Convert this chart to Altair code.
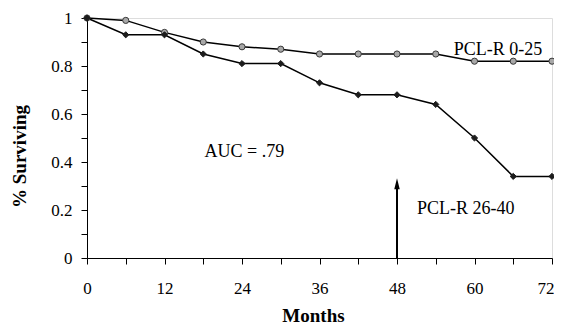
import altair as alt
import pandas as pd

# ---- data ----
months = [0, 6, 12, 18, 24, 30, 36, 42, 48, 54, 60, 66, 72]
pcl_low = [1.00, 0.99, 0.94, 0.90, 0.88, 0.87, 0.85, 0.85, 0.85, 0.85, 0.82, 0.82, 0.82]
pcl_high = [1.00, 0.93, 0.93, 0.85, 0.81, 0.81, 0.73, 0.68, 0.68, 0.64, 0.50, 0.34, 0.34]
series_names = ["PCL-R 0-25", "PCL-R 26-40"]

note_text = ["PCL-R 0-25", "AUC = .79", "PCL-R 26-40"]
note_x = [56.8, 18.2, 51.1]
note_y = [0.846, 0.422, 0.183]

arrow_x = [48]
arrow_y0 = [0.0]
arrow_y1 = [0.30]
arrow_head_y = [0.309]

x_ticks = list(range(0, 73, 6))
y_ticks = [0, 0.1, 0.2, 0.3, 0.4, 0.5, 0.6, 0.7, 0.8, 0.9, 1]

# ---- tables ----
rows = []
for name, vals in zip(series_names, [pcl_low, pcl_high]):
    for m, v in zip(months, vals):
        rows.append({"series": name, "x": m, "y": v})
df = pd.DataFrame(rows)
notes = pd.DataFrame({"text": note_text, "x": note_x, "y": note_y})
arrow = pd.DataFrame({"x": arrow_x, "y": arrow_y0, "y2": arrow_y1, "yh": arrow_head_y})

FONT = "Liberation Serif, Times New Roman, serif"

xscale = alt.Scale(domain=[0, 72], nice=False, zero=False)
yscale = alt.Scale(domain=[0, 1], nice=False)

xaxis = alt.Axis(
    values=x_ticks, labelExpr="datum.value % 12 === 0 ? datum.label : ''",
    labelAlign=alt.ExprRef(expr="datum.value === 72 ? 'right' : 'center'"),
    labelOffset=alt.ExprRef(expr="datum.value === 72 ? 2 : 0"),
    title="Months", titleFont=FONT, titleFontSize=19, titleFontWeight="bold",
    titleColor="black", titleX=226, titleY=63, titleBaseline="alphabetic",
    titleAnchor="start", titleAlign="center",
    labelFont=FONT, labelFontSize=17, labelColor="black", labelPadding=16,
    tickSize=6, tickColor="black", domainColor="black", grid=False,
    labelFlush=False, labelOverlap=False,
)
yaxis = alt.Axis(
    values=y_ticks, format=".1~f",
    labelExpr="round(datum.value * 10) % 2 === 0 ? datum.label : ''",
    title="% Surviving", titleFont=FONT, titleFontSize=19, titleFontWeight="bold",
    titleColor="black", titleX=-62, titleY=138, titleBaseline="alphabetic",
    titleAngle=270, titleAlign="center",
    labelFont=FONT, labelFontSize=17, labelColor="black", labelPadding=9,
    tickSize=6, tickColor="black", domainColor="black", grid=False,
    labelFlush=False, labelOverlap=False,
)

X = alt.X("x:Q", scale=xscale, axis=xaxis)
Y = alt.Y("y:Q", scale=yscale, axis=yaxis)

lines = alt.Chart(df).mark_line(color="black", strokeWidth=1.5).encode(
    x=X, y=Y, detail="series:N"
)

points = alt.Chart(df).mark_point(filled=True, opacity=1, strokeWidth=1, size=38).encode(
    x=X, y=Y,
    shape=alt.Shape("series:N", scale=alt.Scale(domain=series_names, range=["circle", "diamond"]), legend=None),
    color=alt.Color("series:N", scale=alt.Scale(domain=series_names, range=["#a8a8a8", "#1c1c1c"]), legend=None),
    stroke=alt.Stroke("series:N", scale=alt.Scale(domain=series_names, range=["#3a3a3a", "#1c1c1c"]), legend=None),
)

arrow_line = alt.Chart(arrow).mark_rule(color="black", strokeWidth=2).encode(
    x=X, y=Y, y2="y2:Q"
)
arrow_head = alt.Chart(arrow).mark_point(
    filled=True, color="black", opacity=1, size=121,
    shape="M0,-1L-0.5,1L0.5,1Z",
).encode(x=X, y=alt.Y("yh:Q", scale=yscale, axis=yaxis))

texts = alt.Chart(notes).mark_text(
    font=FONT, fontSize=18, color="black", align="left", baseline="alphabetic"
).encode(x=X, y=Y, text="text:N")

chart = alt.layer(lines, points, arrow_line, arrow_head, texts).properties(
    width=465, height=240,
    autosize=alt.AutoSizeParams(type="none"),
    padding={"left": 79, "top": 10, "right": 2, "bottom": 68},
).configure_view(stroke=None).configure(background="white")

chart.save("out.html", embed_options={"renderer": "svg", "actions": False})
